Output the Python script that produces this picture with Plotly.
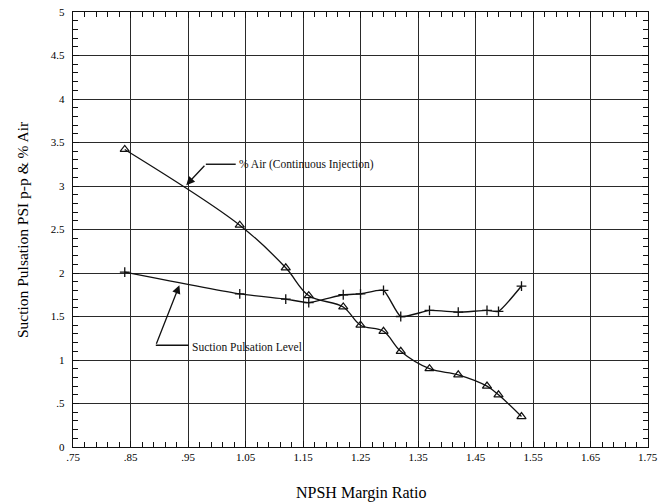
import plotly.graph_objects as go

# NPSH margin ratio readings
air_x = [0.84, 1.04, 1.12, 1.16, 1.22, 1.25, 1.29, 1.32, 1.37, 1.42, 1.47, 1.49, 1.53]
air_y = [3.42, 2.55, 2.06, 1.74, 1.61, 1.40, 1.33, 1.10, 0.90, 0.83, 0.70, 0.60, 0.35]

puls_x = [0.84, 1.04, 1.12, 1.16, 1.22, 1.25, 1.29, 1.32, 1.37, 1.42, 1.47, 1.49, 1.53]
puls_y = [2.01, 1.76, 1.70, 1.66, 1.75, 1.76, 1.80, 1.50, 1.57, 1.55, 1.57, 1.56, 1.85]

x_ticks = [0.75, 0.85, 0.95, 1.05, 1.15, 1.25, 1.35, 1.45, 1.55, 1.65, 1.75]
x_labels = [".75", ".85", ".95", "1.05", "1.15", "1.25", "1.35", "1.45", "1.55", "1.65", "1.75"]
y_ticks = [0, 0.5, 1, 1.5, 2, 2.5, 3, 3.5, 4, 4.5, 5]
y_labels = ["0", ".5", "1", "1.5", "2", "2.5", "3", "3.5", "4", "4.5", "5"]

FONT = "Liberation Serif"
INK = "#111111"
TICK_FONT = dict(family=FONT, size=11, color="#000000")

fig = go.Figure()

fig.add_trace(go.Scatter(
    x=air_x, y=air_y, mode="lines+markers",
    line=dict(color=INK, width=1.3, shape="spline", smoothing=1.0),
    marker=dict(symbol="triangle-up-open", size=8, color=INK, line=dict(width=1.2, color=INK)),
    name="% Air (Continuous Injection)", showlegend=False,
))
fig.add_trace(go.Scatter(
    x=puls_x, y=puls_y, mode="lines+markers",
    line=dict(color=INK, width=1.4, shape="spline", smoothing=0.5),
    marker=dict(symbol="cross-thin-open", size=7, color=INK, line=dict(width=1.3, color=INK)),
    name="Suction Pulsation Level", showlegend=False,
))

# Callout labels with elbow leaders
fig.add_shape(type="line", x0=0.981, y0=3.25, x1=1.033, y1=3.25,
              xref="x", yref="y", line=dict(color=INK, width=1.4))
fig.add_annotation(x=0.947, y=3.01, ax=0.981, ay=3.25, axref="x", ayref="y",
                   xref="x", yref="y", text="", showarrow=True,
                   arrowhead=2, arrowsize=1.3, arrowwidth=1.3, arrowcolor=INK)
fig.add_annotation(x=1.035, y=3.25, xref="x", yref="y", text="% Air (Continuous Injection)",
                   showarrow=False, xanchor="left", yanchor="middle",
                   font=dict(family=FONT, size=11.5, color=INK))

fig.add_shape(type="line", x0=0.894, y0=1.17, x1=0.951, y1=1.17,
              xref="x", yref="y", line=dict(color=INK, width=1.4))
fig.add_annotation(x=0.935, y=1.86, ax=0.894, ay=1.17, axref="x", ayref="y",
                   xref="x", yref="y", text="", showarrow=True,
                   arrowhead=2, arrowsize=1.3, arrowwidth=1.3, arrowcolor=INK)
fig.add_annotation(x=0.953, y=1.15, xref="x", yref="y", text="Suction Pulsation Level",
                   showarrow=False, xanchor="left", yanchor="middle",
                   font=dict(family=FONT, size=11.5, color=INK))

# Axis titles
fig.add_annotation(x=0.5, y=0, xref="paper", yref="paper", yshift=-35,
                   text="NPSH Margin Ratio", showarrow=False,
                   xanchor="center", yanchor="top",
                   font=dict(family=FONT, size=16, color="#000000"))
fig.add_annotation(x=0, y=0.5, xref="paper", yref="paper", xshift=-61,
                   text="Suction Pulsation PSI p-p & % Air", showarrow=False, textangle=-90,
                   xanchor="left", yanchor="middle",
                   font=dict(family=FONT, size=15.5, color="#000000"))

# The last x tick label sits on the page edge, so it is placed explicitly
axis_x_labels = x_labels[:-1] + [""]
fig.add_annotation(x=x_ticks[-1], y=0, xref="x", yref="paper", yshift=-2,
                   text=x_labels[-1], showarrow=False,
                   xanchor="center", yanchor="top", font=TICK_FONT)

axis_common = dict(
    showline=True, linecolor=INK, linewidth=1.4, mirror="ticks",
    ticks="inside", ticklen=6, tickcolor=INK, tickwidth=1.2,
    showgrid=True, gridcolor="#2a2a2a", gridwidth=1,
    zeroline=False, automargin=False,
    tickfont=TICK_FONT,
)

fig.update_xaxes(
    range=[0.75, 1.75], tickvals=x_ticks, ticktext=axis_x_labels,
    minor=dict(dtick=0.02, tick0=0.75, ticks="inside", ticklen=5, tickcolor=INK, showgrid=False),
    **axis_common,
)
fig.update_yaxes(
    range=[0, 5], tickvals=y_ticks, ticktext=y_labels, ticklabelstandoff=5,
    minor=dict(dtick=0.1, tick0=0, ticks="inside", ticklen=5, tickcolor=INK, showgrid=False),
    **axis_common,
)

fig.update_layout(
    width=658, height=504,
    margin=dict(l=73, r=10, t=12, b=57),
    paper_bgcolor="white", plot_bgcolor="white",
)

fig.write_html("out.html")
